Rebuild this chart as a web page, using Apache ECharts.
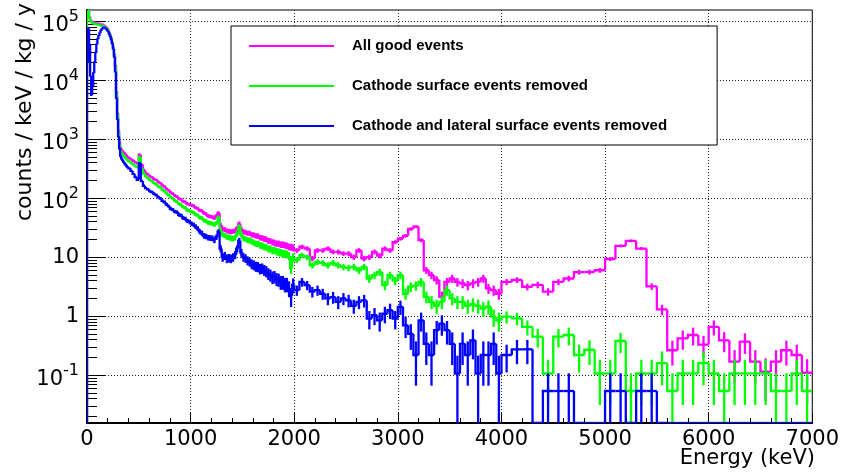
<!DOCTYPE html>
<html><head><meta charset="utf-8">
<script src="https://cdn.jsdelivr.net/npm/echarts@6/dist/echarts.min.js"></script>
<style>html,body{margin:0;padding:0;background:#fff}#c{width:842px;height:472px}</style>
</head><body><div id="c"></div>
<script>
// ---- binning (keV): segments of constant bin width ----
const segStart = [0, 400, 2000, 4000];
const segEnd   = [400, 2000, 4000, 7000];
const segWidth = [10, 20, 50, 100];
// one count expressed in counts/keV/kg/y for a 1 keV bin (read from single-count levels)
const oneCount = 5.36;

// ---- series values (counts / keV / kg / y), one per bin ----
const allGood = [
  // 0-400, 10 keV bins
  3.0e5, 2.5e5, 1.2e5, 1.02e5, 1.0e5, 9.8e4, 9.6e4, 9.5e4, 9.4e4, 9.3e4,
  9.2e4, 9.1e4, 9.0e4, 8.9e4, 8.8e4, 8.7e4, 8.5e4, 8.3e4, 8.0e4, 7.7e4,
  7.2e4, 6.6e4, 6.0e4, 5.3e4, 4.5e4, 3.7e4, 2.8e4, 1.8e4, 6.5e3, 2.8e3,
  1.4e3, 900, 720, 660, 630, 600, 575, 550, 525, 500,
  // 400-2000, 20 keV bins
  480, 455, 430, 405, 390, 545, 370, 300, 268, 252, 236, 226, 211, 204, 189, 180, 165, 157, 144, 136,
  125, 119, 110, 106, 98, 95, 88, 86, 80, 78,
  76, 74, 69, 67, 62, 61, 56, 54, 50, 49, 48, 46, 50, 56, 35, 30, 29.5, 28, 27.5, 27,
  27.5, 28, 31, 37, 30, 27, 26.5, 25.5, 25.5, 24, 23.8, 23, 22.8, 21.5, 21.3, 20.5, 20.2, 19, 18.8, 18,
  17.6, 17, 17, 16.4, 16.4, 16, 15.6, 15, 14.9, 14.5,
  // 2000-4000, 50 keV bins
  13, 15, 14, 9.5, 13, 13, 14, 12.3, 12.3, 11.5, 11.5, 10, 13, 9.5, 10, 12.3, 10.6, 14, 13, 18,
  20.5, 23, 30, 33, 19.4, 6.0, 4.95, 4.1, 2.13, 3.8, 4.35, 3.8, 3.6, 3.35, 3.6, 3.8, 4.35, 2.95, 2.76, 2.4,
  // 4000-7000, 100 keV bins
  3.8, 4.1, 3.15, 3.4, 2.6, 3.8, 4.35, 5.6, 5.6, 6.0, 9.3, 15.5, 18.9, 14, 3.2, 1.3, 0.265, 0.42, 0.48, 0.33,
  0.66, 0.39, 0.17, 0.37, 0.17, 0.115, 0.17, 0.265, 0.22, 0.11
];
const cathodeRemoved = [
  2.6e5, 2.2e5, 1.15e5, 1.0e5, 9.6e4, 9.4e4, 9.2e4, 9.1e4, 9.0e4, 8.9e4,
  8.8e4, 8.7e4, 8.6e4, 8.5e4, 8.4e4, 8.3e4, 8.2e4, 8.0e4, 7.8e4, 7.5e4,
  7.0e4, 6.4e4, 5.8e4, 5.1e4, 4.4e4, 3.6e4, 2.7e4, 1.7e4, 6.0e3, 2.6e3,
  1.3e3, 820, 640, 590, 560, 530, 505, 480, 460, 440,
  420, 395, 372, 350, 335, 500, 318, 262, 235, 219, 203, 194, 180, 172, 159, 152, 139, 132, 120, 114,
  104, 99, 91, 87, 80, 77, 71, 69, 63, 61,
  59, 57, 53, 51, 47, 46, 42, 41, 38.5, 38, 37, 35.5, 38, 47, 28, 24, 23.5, 22, 21.8, 21,
  20.8, 21.5, 25, 33, 24, 21, 20.5, 19.5, 19.3, 18.5, 17.8, 17, 16.8, 16, 15.8, 15, 14.8, 14, 13.8, 13,
  13.2, 12.5, 12.2, 12, 11.6, 11.5, 11.2, 10.5, 6.5, 10,
  8.9, 10.8, 10, 7.3, 8.3, 8.0, 7.3, 8.0, 7.3, 6.85, 6.6, 6.85, 6.0, 6.85, 4.35, 4.95, 5.6, 3.35, 4.95, 4.0,
  4.95, 2.4, 3.15, 3.3, 3.8, 2.13, 1.75, 1.5, 1.75, 2.76, 2.0, 1.75, 1.75, 1.5, 1.6, 1.5, 1.35, 1.45, 0.98, 0.85,
  0.98, 0.92, 0.66, 0.45, 0.107, 0.45, 0.48, 0.22, 0.27, 0.107, 0.107, 0.38, 0.054, 0.107, 0.107, 0.16, 0.054, 0.107, 0.107, 0.16,
  0.107, 0.054, 0.107, 0.107, 0.107, 0.107, 0.054, 0.054, 0.107, 0.054
];
const lateralRemoved = [
  2.0e4, 7.5e4, 4.0e4, 1.2e4, 5.6e3, 8.0e3, 1.3e4, 2.0e4, 2.9e4, 4.0e4,
  4.9e4, 5.6e4, 6.2e4, 6.8e4, 7.2e4, 7.5e4, 7.7e4, 7.7e4, 7.5e4, 7.2e4,
  6.8e4, 6.2e4, 5.6e4, 4.9e4, 4.2e4, 3.4e4, 2.5e4, 1.4e4, 5.0e3, 2.2e3,
  1.1e3, 700, 520, 470, 440, 410, 390, 370, 350, 335,
  320, 290, 258, 228, 205, 390, 195, 162, 148, 141, 131, 127, 118, 113, 104, 99, 90, 86, 78, 73,
  66, 64, 59, 58, 52, 51, 46, 45, 41, 40,
  37, 35.5, 33, 30.5, 27, 25.5, 23, 22.5, 21.5, 21.2, 21, 19.5, 22, 27, 14, 10, 10.6, 9.5, 9.7, 9.5,
  10, 11, 14, 19, 12, 10, 9.6, 8.8, 8.4, 7.7, 7.4, 7.0, 6.9, 6.4, 6.5, 6.1, 5.8, 5.3, 5.0, 4.6,
  4.7, 4.3, 4.2, 3.8, 3.8, 3.5, 3.5, 3.0, 2.2, 3.4,
  2.76, 3.8, 3.35, 2.6, 2.76, 2.4, 2.0, 2.1, 1.75, 2.0, 1.85, 1.5, 1.75, 1.85, 0.91, 1.04, 0.85, 1.1, 1.26, 0.91,
  1.44, 0.7, 0.5, 0.22, 0.85, 0.34, 0.22, 0.58, 0.75, 0.58, 0.34, 0.107, 0.34, 0.22, 0.39, 0.107, 0.22, 0.22, 0.34, 0.107,
  0.22, 0.275, 0.275, 0, 0.054, 0.054, 0.054, 0, 0, 0, 0.054, 0.054, 0, 0.054, 0.054, 0, 0, 0, 0, 0,
  0, 0, 0, 0, 0, 0, 0, 0, 0, 0
];
const seriesNames = ['All good events', 'Cathode surface events removed', 'Cathode and lateral surface events removed'];
const seriesColors = ['#ff00ff', '#00ff00', '#0000ff'];
const yTickValues = [0.1, 1, 10, 100, 1000, 1e4, 1e5];
const yMinorValues = [];
[0.01, 0.1, 1, 10, 100, 1000, 1e4].forEach(d => { for (let k = 2; k <= 9; k++) yMinorValues.push(+(d * k).toPrecision(3)); });

const YMIN = 0.0155, YMAX = 1.54e5;
const LINE_W = 2.3;

// bin edges
const binLo = [], binHi = [];
for (let s = 0; s < segStart.length; s++) {
  for (let e = segStart[s]; e < segEnd[s]; e += segWidth[s]) { binLo.push(e); binHi.push(e + segWidth[s]); }
}

function histData(vals) {
  return vals.map((v, i) => {
    const prev = i ? vals[i - 1] : 0;
    const bw = binHi[i] - binLo[i];
    const err = v > 0 ? Math.sqrt(v * oneCount / bw) : 0;
    return [binLo[i], binHi[i], Math.max(v, YMIN), Math.max(prev, YMIN), err, v];
  });
}

function renderHist(params, api) {
  const color = api.visual('color');
  const x0 = api.value(0), x1 = api.value(1), yv = api.value(2), yp = api.value(3), err = api.value(4), raw = api.value(5);
  const p0 = api.coord([x0, yp]), p1 = api.coord([x0, yv]), p2 = api.coord([x1, yv]);
  const children = [{
    type: 'polyline', shape: { points: [p0, p1, p2] },
    style: { stroke: color, lineWidth: LINE_W, fill: null }
  }];
  if (raw > 0 && err > 0) {
    const xc = (x0 + x1) / 2;
    const a = api.coord([xc, Math.max(raw - err, YMIN)]);
    const b = api.coord([xc, raw + err]);
    if (Math.abs(a[1] - b[1]) > 0.5) {
      children.push({ type: 'line', shape: { x1: a[0], y1: a[1], x2: b[0], y2: b[1] }, style: { stroke: color, lineWidth: LINE_W } });
    }
  }
  return { type: 'group', children };
}

const AXFONT = 'DejaVu Sans';
const LGFONT = 'Liberation Sans';
const chart = echarts.init(document.getElementById('c'), null, { renderer: 'canvas' });
const dataSets = [allGood, cathodeRemoved, lateralRemoved];

chart.setOption({
  animation: false,
  backgroundColor: '#fff',
  grid: { left: 87, right: 26, top: 10, bottom: 49, show: true, borderColor: '#000', borderWidth: 1, backgroundColor: 'transparent' },
  legend: {
    orient: 'vertical', left: 231, top: 26,
    icon: 'rect', itemWidth: 85, itemHeight: 2, itemGap: 20,
    backgroundColor: '#fff', borderColor: '#000', borderWidth: 1,
    padding: [10, 50, 9, 18],
    textStyle: { fontFamily: LGFONT, fontSize: 15, fontWeight: 'bold', color: '#000', lineHeight: 20, padding: [0, 0, 0, 13] },
    data: seriesNames
  },
  xAxis: {
    type: 'value', min: 0, max: 7000, interval: 1000,
    axisLine: { show: true, lineStyle: { color: '#000', width: 2 } },
    axisTick: { show: true, inside: true, length: 10, lineStyle: { color: '#000', width: 1 } },
    minorTick: { show: true, splitNumber: 5, length: 5, lineStyle: { color: '#000', width: 1 } },
    axisLabel: { fontFamily: AXFONT, fontSize: 21, color: '#000', margin: 6, formatter: v => String(v) },
    splitLine: { show: true, lineStyle: { color: '#222', width: 1, type: [1, 2] } }
  },
  yAxis: [{
    type: 'log', min: YMIN, max: YMAX,
    axisLine: { show: true, lineStyle: { color: '#000', width: 2 } },
    axisTick: { show: true, inside: true, length: 18, customValues: yTickValues, lineStyle: { color: '#000', width: 1 } },
    axisLabel: {
      customValues: yTickValues, fontFamily: AXFONT, fontSize: 21, color: '#000', margin: 8,
      formatter: function (v) {
        const e = Math.round(Math.log10(v));
        if (e === 0) return '1';
        if (e === 1) return '10';
        return '{b|10}{sup|' + e + '}';
      },
      rich: {
        b: { fontFamily: AXFONT, fontSize: 21, lineHeight: 21, padding: [8, 0, 0, 0], color: '#000' },
        sup: { fontFamily: AXFONT, fontSize: 16, lineHeight: 16, padding: [0, 0, 8, 0], color: '#000' }
      }
    },
    splitLine: { show: true, lineStyle: { color: '#222', width: 1, type: [1, 2] } }
  }, {
    type: 'log', min: YMIN, max: YMAX, position: 'left',
    axisLine: { show: false },
    axisLabel: { show: false },
    splitLine: { show: false },
    axisTick: { show: true, inside: true, length: 10, customValues: yMinorValues, lineStyle: { color: '#000', width: 1 } }
  }],
  graphic: [
    { type: 'text', x: 25, y: 3, rotation: Math.PI / 2,
      style: { text: 'counts / keV / kg / y', fontFamily: AXFONT, fontSize: 22, fill: '#000', textAlign: 'right', textVerticalAlign: 'middle' } },
    { type: 'text', x: 815, y: 448,
      style: { text: 'Energy (keV)', fontFamily: AXFONT, fontSize: 21, fill: '#000', textAlign: 'right', textVerticalAlign: 'top' } }
  ],
  series: dataSets.map((vals, k) => ({
    type: 'custom', name: seriesNames[k], xAxisIndex: 0, yAxisIndex: 0,
    itemStyle: { color: seriesColors[k] },
    clip: true,
    encode: { x: [0, 1], y: [2, 3] },
    renderItem: renderHist,
    data: histData(vals),
    z: 2 + k
  }))
});
</script></body></html>
